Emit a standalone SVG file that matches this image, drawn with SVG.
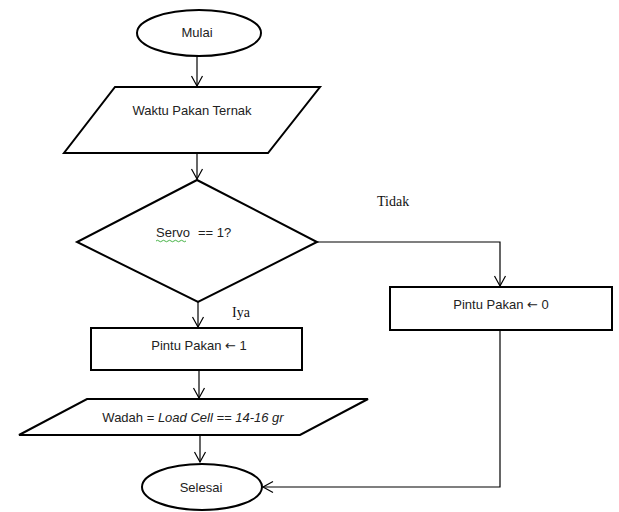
<svg xmlns="http://www.w3.org/2000/svg" width="619" height="512" viewBox="0 0 619 512">
<style>
.shape{fill:#fff;stroke:#000;stroke-width:2}
.conn{fill:none;stroke:#000;stroke-width:1.2}
.t{font-family:"Liberation Sans",Arial,sans-serif;font-size:13px;fill:#222;text-anchor:middle}
.ar{font-family:"DejaVu Sans",sans-serif;font-size:13px}
.lbl{font-family:"Liberation Serif","Times New Roman",serif;font-size:14px;fill:#111}
</style>
<defs>
<marker id="arr" markerUnits="userSpaceOnUse" markerWidth="14" markerHeight="14" viewBox="-11 -7 14 14" refX="0" refY="0" orient="auto">
<path d="M-10,-5.5 L0,0 L-10,5.5" fill="none" stroke="#000" stroke-width="1.2"/>
</marker>
</defs>
<rect width="619" height="512" fill="#fff"/>
<g id="connectors">
<line class="conn" x1="197" y1="56" x2="197" y2="86" marker-end="url(#arr)"/>
<line class="conn" x1="197" y1="153" x2="197" y2="179" marker-end="url(#arr)"/>
<line class="conn" x1="198" y1="302" x2="198" y2="327" marker-end="url(#arr)"/>
<line class="conn" x1="199" y1="370" x2="199" y2="398" marker-end="url(#arr)"/>
<line class="conn" x1="200" y1="435" x2="200" y2="462" marker-end="url(#arr)"/>
<polyline class="conn" points="317,242 500,242 500,286" marker-end="url(#arr)"/>
<polyline class="conn" points="500,330 500,487 263,487" marker-end="url(#arr)"/>
<text class="lbl" x="377" y="206">Tidak</text>
<text class="lbl" x="232" y="317">Iya</text>
</g>
<g id="mulai">
<ellipse class="shape" cx="199" cy="33" rx="62" ry="23"/>
<text class="t" x="197" y="37">Mulai</text>
</g>
<g id="waktu">
<polygon class="shape" points="115,87 320,87 268,153 64,153"/>
<text class="t" x="192" y="115">Waktu Pakan Ternak</text>
</g>
<g id="servo">
<polygon class="shape" points="197,180 317,242 198,302 77,242"/>
<text class="t" x="156" y="237" style="text-anchor:start">Servo<tspan dx="8">== 1?</tspan></text>
<path d="M156,241 q1.5,-1.5 3,0 t3,0 t3,0 t3,0 t3,0 t3,0 t3,0 t3,0 t3,0 t3,0" fill="none" stroke="#3a3" stroke-width="0.9"/>
</g>
<g id="pintu0">
<rect class="shape" x="390" y="287" width="222" height="43"/>
<text class="t" x="501" y="309">Pintu Pakan <tspan class="ar">←</tspan> 0</text>
</g>
<g id="pintu1">
<rect class="shape" x="91" y="328" width="211" height="42"/>
<text class="t" x="199" y="350">Pintu Pakan <tspan class="ar">←</tspan> 1</text>
</g>
<g id="wadah">
<polygon class="shape" points="87,399 368,399 300,435 19,435"/>
<text class="t" x="193" y="422">Wadah = <tspan font-style="italic">Load Cell == 14-16 gr</tspan></text>
</g>
<g id="selesai">
<ellipse class="shape" cx="202" cy="487" rx="60" ry="23"/>
<text class="t" x="201" y="492">Selesai</text>
</g>
</svg>
